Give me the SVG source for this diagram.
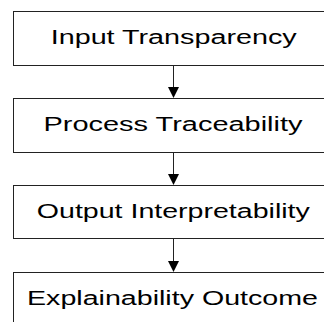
<svg xmlns="http://www.w3.org/2000/svg" width="324" height="322" viewBox="0 0 324 322">
<style>
.box{fill:#ffffff;stroke:#222;stroke-width:1}
.lbl{font-family:"Liberation Sans",Arial,sans-serif;font-size:20px;fill:#000;text-anchor:middle}
.edge{stroke:#222;stroke-width:1;fill:none}
.head{fill:#000}
</style>
<rect width="324" height="322" fill="#ffffff"/>
<g id="connectors">
<line class="edge" x1="173.5" y1="65" x2="173.5" y2="88"/>
<polygon class="head" points="168,87 179,87 173.5,98"/>
<line class="edge" x1="173.5" y1="152" x2="173.5" y2="175"/>
<polygon class="head" points="168,174 179,174 173.5,185"/>
<line class="edge" x1="173.5" y1="239" x2="173.5" y2="262"/>
<polygon class="head" points="168,261 179,261 173.5,272"/>
</g>
<g id="node1">
<rect class="box" x="13.5" y="11.5" width="330" height="54"/>
<text class="lbl" x="173.7" y="44" textLength="246" lengthAdjust="spacingAndGlyphs">Input Transparency</text>
</g>
<g id="node2">
<rect class="box" x="13.5" y="98.5" width="330" height="54"/>
<text class="lbl" x="173" y="131" textLength="259" lengthAdjust="spacingAndGlyphs">Process Traceability</text>
</g>
<g id="node3">
<rect class="box" x="13.5" y="185.5" width="330" height="53"/>
<text class="lbl" x="173.3" y="218" textLength="273" lengthAdjust="spacingAndGlyphs">Output Interpretability</text>
</g>
<g id="node4">
<rect class="box" x="13.5" y="272.5" width="330" height="60"/>
<text class="lbl" x="172.5" y="305" textLength="291" lengthAdjust="spacingAndGlyphs">Explainability Outcome</text>
</g>
</svg>
